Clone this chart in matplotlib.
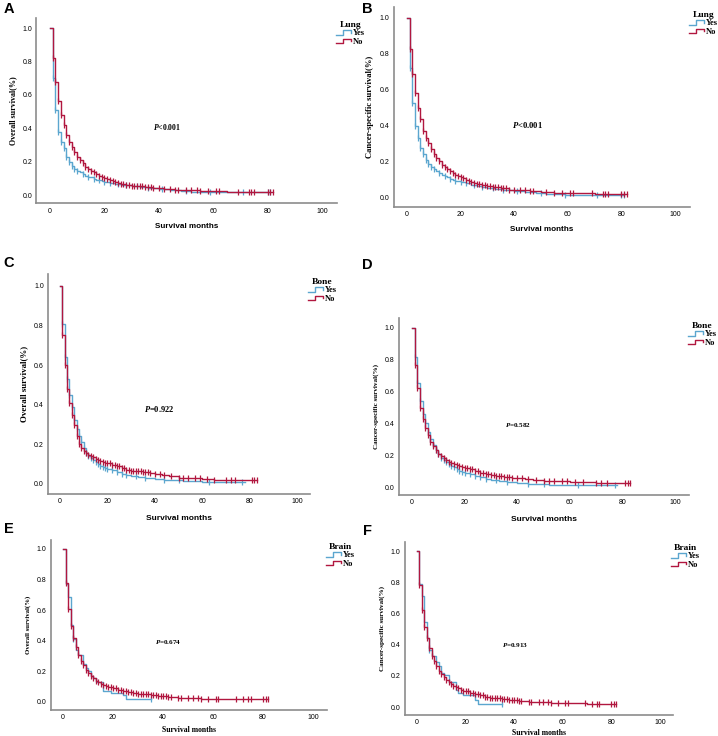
import numpy as np
import matplotlib
matplotlib.use('Agg')
import matplotlib.pyplot as plt
from matplotlib.legend_handler import HandlerBase
from matplotlib.lines import Line2D

plt.rcParams['mathtext.fontset'] = 'custom'
plt.rcParams['mathtext.it'] = 'Liberation Serif:bold:italic'
plt.rcParams['mathtext.rm'] = 'Liberation Serif:bold'

BLUE = '#5ba6cf'
RED = '#b1173f'

month_ticks = [0, 20, 40, 60, 80, 100]
surv_ticks = [0.0, 0.2, 0.4, 0.6, 0.8, 1.0]
group_labels = ['Yes', 'No']
panel_letters = ['A', 'B', 'C', 'D', 'E', 'F']
site_names = ['Lung', 'Lung', 'Bone', 'Bone', 'Brain', 'Brain']
y_titles = ['Overall survival(%)', 'Cancer-specific survival(%)',
            'Overall survival(%)', 'Cancer-specific survival(%)',
            'Overall survival(%)', 'Cancer-specific survival(%)']
p_texts = ['$P$<0.001', '$P$<0.001', '$P$=0.922', '$P$=0.582', '$P$=0.674', '$P$=0.913']

# ---------------- Panel A (OS, Lung) ----------------
a_yes_t = [0, 1, 2, 3, 4, 5, 6, 7, 8, 9, 10, 11, 12, 13, 14, 15, 16, 17, 18, 19, 20, 22, 24, 26, 28, 30, 33, 36, 40, 44, 48, 52, 58, 81]
a_yes_s = [1.0, 0.70, 0.51, 0.38, 0.32, 0.28, 0.23, 0.20, 0.175, 0.155, 0.145, 0.135, 0.125, 0.115, 0.11, 0.105, 0.098, 0.092, 0.087, 0.082, 0.078, 0.072, 0.066, 0.060, 0.057, 0.053, 0.047, 0.040, 0.035, 0.030, 0.025, 0.020, 0.015, 0.015]
a_yes_c = [1, 2, 3, 4, 5, 6, 7, 8, 9, 10, 12, 14, 16, 18, 20, 22, 25, 28, 32, 36, 41, 50, 59, 71, 80, 81]
a_no_t = [0, 1, 2, 3, 4, 5, 6, 7, 8, 9, 10, 11, 12, 13, 14, 15, 16, 17, 18, 19, 20, 21, 22, 23, 24, 25, 26, 28, 30, 32, 35, 38, 42, 46, 50, 55, 60, 65, 82]
a_no_s = [1.0, 0.82, 0.675, 0.56, 0.48, 0.42, 0.36, 0.32, 0.29, 0.26, 0.23, 0.21, 0.19, 0.17, 0.155, 0.145, 0.135, 0.125, 0.115, 0.108, 0.10, 0.095, 0.09, 0.083, 0.077, 0.072, 0.067, 0.061, 0.056, 0.051, 0.046, 0.040, 0.035, 0.030, 0.028, 0.025, 0.023, 0.020, 0.020]
a_no_c = [1, 2, 3, 4, 5, 6, 7, 8, 9, 10, 11, 12, 13, 14, 15, 16, 17, 18, 19, 20, 21, 22, 23, 24, 25, 26, 27, 28, 29, 30, 31, 32, 33, 34, 35, 36, 37, 38, 40, 42, 44, 46, 47, 50, 52, 54, 55, 58, 61, 62, 69, 73, 74, 75, 80, 81, 82]

# ---------------- Panel B (CSS, Lung) ----------------
b_yes_t = [0, 1, 2, 3, 4, 5, 6, 7, 8, 9, 10, 11, 12, 13, 14, 15, 16, 17, 18, 19, 20, 22, 24, 26, 28, 30, 33, 36, 40, 44, 48, 52, 56, 59, 81]
b_yes_s = [1.0, 0.72, 0.53, 0.40, 0.335, 0.28, 0.245, 0.21, 0.19, 0.17, 0.16, 0.15, 0.14, 0.13, 0.125, 0.115, 0.108, 0.10, 0.096, 0.092, 0.088, 0.082, 0.075, 0.068, 0.063, 0.058, 0.052, 0.045, 0.040, 0.035, 0.028, 0.024, 0.020, 0.016, 0.016]
b_yes_c = [1, 2, 3, 4, 5, 6, 7, 8, 9, 10, 12, 14, 16, 18, 20, 22, 25, 28, 32, 36, 41, 50, 59, 71, 80, 81]
b_no_t = [0, 1, 2, 3, 4, 5, 6, 7, 8, 9, 10, 11, 12, 13, 14, 15, 16, 17, 18, 19, 20, 21, 22, 23, 24, 25, 26, 28, 30, 32, 35, 38, 42, 46, 50, 55, 60, 65, 70, 82]
b_no_s = [1.0, 0.83, 0.69, 0.585, 0.50, 0.44, 0.375, 0.335, 0.305, 0.275, 0.245, 0.225, 0.205, 0.185, 0.17, 0.16, 0.15, 0.14, 0.128, 0.12, 0.115, 0.11, 0.10, 0.095, 0.09, 0.085, 0.08, 0.072, 0.066, 0.06, 0.053, 0.047, 0.042, 0.037, 0.033, 0.030, 0.028, 0.026, 0.022, 0.022]
b_no_c = [1, 2, 3, 4, 5, 6, 7, 8, 9, 10, 11, 12, 13, 14, 15, 16, 17, 18, 19, 20, 21, 22, 23, 24, 25, 26, 27, 28, 29, 30, 31, 32, 33, 34, 35, 36, 37, 38, 40, 42, 44, 46, 47, 52, 55, 58, 61, 62, 69, 73, 74, 75, 80, 81, 82]

# ---------------- Panel C (OS, Bone) ----------------
c_yes_t = [0, 1, 2, 3, 4, 5, 6, 7, 8, 9, 10, 11, 12, 13, 14, 15, 16, 17, 18, 19, 20, 22, 24, 26, 28, 30, 33, 36, 40, 44, 48, 52, 60, 78]
c_yes_s = [1.0, 0.81, 0.64, 0.53, 0.45, 0.39, 0.325, 0.28, 0.24, 0.21, 0.18, 0.155, 0.14, 0.13, 0.12, 0.11, 0.10, 0.09, 0.085, 0.08, 0.077, 0.07, 0.06, 0.05, 0.045, 0.04, 0.037, 0.030, 0.027, 0.022, 0.018, 0.013, 0.010, 0.010]
c_yes_c = [1, 2, 3, 4, 5, 6, 7, 8, 9, 10, 11, 12, 13, 14, 15, 16, 17, 18, 19, 20, 22, 24, 26, 28, 32, 36, 44, 50, 63, 77]
c_no_t = [0, 1, 2, 3, 4, 5, 6, 7, 8, 9, 10, 11, 12, 13, 14, 15, 16, 17, 18, 19, 20, 22, 24, 26, 28, 30, 32, 35, 38, 40, 43, 46, 50, 55, 60, 65, 83]
c_no_s = [1.0, 0.755, 0.60, 0.48, 0.41, 0.35, 0.30, 0.24, 0.20, 0.18, 0.165, 0.155, 0.145, 0.14, 0.135, 0.128, 0.122, 0.117, 0.112, 0.108, 0.104, 0.097, 0.09, 0.08, 0.072, 0.068, 0.064, 0.06, 0.054, 0.05, 0.045, 0.038, 0.032, 0.030, 0.025, 0.022, 0.020]
c_no_c = [1, 2, 3, 4, 5, 6, 7, 8, 9, 10, 11, 12, 13, 14, 15, 16, 17, 18, 19, 20, 21, 22, 23, 24, 25, 26, 27, 28, 29, 30, 31, 32, 33, 34, 35, 36, 37, 38, 40, 42, 44, 47, 50, 52, 54, 57, 59, 62, 65, 70, 72, 74, 81, 82, 83]

# ---------------- Panel D (CSS, Bone) ----------------
d_yes_t = [0, 1, 2, 3, 4, 5, 6, 7, 8, 9, 10, 11, 12, 13, 14, 15, 16, 17, 18, 19, 20, 22, 24, 26, 28, 30, 33, 36, 40, 44, 48, 52, 60, 78]
d_yes_s = [1.0, 0.82, 0.655, 0.54, 0.46, 0.40, 0.345, 0.30, 0.265, 0.235, 0.205, 0.185, 0.17, 0.155, 0.145, 0.135, 0.125, 0.113, 0.10, 0.093, 0.088, 0.08, 0.07, 0.06, 0.05, 0.045, 0.04, 0.032, 0.028, 0.022, 0.018, 0.014, 0.011, 0.010]
d_yes_c = [1, 2, 3, 4, 5, 6, 7, 8, 9, 10, 11, 12, 13, 14, 15, 16, 17, 18, 19, 20, 22, 24, 26, 28, 32, 36, 44, 50, 63, 77]
d_no_t = [0, 1, 2, 3, 4, 5, 6, 7, 8, 9, 10, 11, 12, 13, 14, 15, 16, 17, 18, 19, 20, 22, 24, 26, 28, 30, 32, 35, 38, 40, 43, 46, 50, 55, 60, 65, 70, 83]
d_no_s = [1.0, 0.77, 0.62, 0.50, 0.43, 0.37, 0.33, 0.285, 0.255, 0.23, 0.21, 0.195, 0.18, 0.17, 0.16, 0.153, 0.145, 0.14, 0.133, 0.127, 0.12, 0.112, 0.10, 0.09, 0.082, 0.077, 0.072, 0.066, 0.058, 0.054, 0.05, 0.045, 0.040, 0.037, 0.033, 0.030, 0.028, 0.027]
d_no_c = [1, 2, 3, 4, 5, 6, 7, 8, 9, 10, 11, 12, 13, 14, 15, 16, 17, 18, 19, 20, 21, 22, 23, 24, 25, 26, 27, 28, 29, 30, 31, 32, 33, 34, 35, 36, 37, 38, 40, 42, 44, 47, 50, 52, 54, 57, 59, 62, 65, 70, 72, 74, 81, 82, 83]

# ---------------- Panel E (OS, Brain) ----------------
e_yes_t = [0, 1, 2, 3, 4, 5, 6, 8, 9, 10, 11, 12, 13, 16, 19, 24, 25, 35]
e_yes_s = [1.0, 0.77, 0.685, 0.505, 0.41, 0.34, 0.31, 0.25, 0.225, 0.20, 0.17, 0.16, 0.13, 0.075, 0.058, 0.045, 0.022, 0.022]
e_yes_c = [4, 35]
e_no_t = [0, 1, 2, 3, 4, 5, 6, 7, 8, 9, 10, 11, 12, 13, 14, 15, 16, 17, 18, 19, 20, 22, 24, 26, 28, 30, 32, 35, 38, 42, 46, 50, 55, 60, 82]
e_no_s = [1.0, 0.775, 0.61, 0.495, 0.42, 0.36, 0.31, 0.27, 0.24, 0.21, 0.19, 0.17, 0.155, 0.14, 0.13, 0.12, 0.11, 0.105, 0.10, 0.095, 0.09, 0.08, 0.072, 0.065, 0.058, 0.054, 0.05, 0.045, 0.04, 0.033, 0.028, 0.025, 0.022, 0.020, 0.018]
e_no_c = [1, 2, 3, 4, 5, 6, 7, 8, 9, 10, 11, 12, 13, 14, 15, 16, 17, 18, 19, 20, 21, 22, 23, 24, 25, 26, 27, 28, 29, 30, 31, 32, 33, 34, 35, 36, 37, 38, 39, 40, 41, 42, 43, 46, 47, 50, 52, 54, 55, 58, 61, 62, 69, 72, 74, 75, 80, 81, 82]

# ---------------- Panel F (CSS, Brain) ----------------
f_yes_t = [0, 1, 2, 3, 4, 5, 6, 8, 9, 10, 11, 13, 16, 17, 19, 24, 25, 35]
f_yes_s = [1.0, 0.79, 0.71, 0.545, 0.44, 0.365, 0.33, 0.29, 0.265, 0.22, 0.205, 0.16, 0.11, 0.09, 0.075, 0.045, 0.02, 0.02]
f_yes_c = [5, 35]
f_no_t = [0, 1, 2, 3, 4, 5, 6, 7, 8, 9, 10, 11, 12, 13, 14, 15, 16, 17, 18, 19, 20, 22, 24, 26, 28, 30, 32, 35, 38, 42, 46, 50, 55, 60, 70, 82]
f_no_s = [1.0, 0.785, 0.625, 0.51, 0.44, 0.38, 0.33, 0.295, 0.26, 0.23, 0.21, 0.19, 0.175, 0.16, 0.148, 0.137, 0.127, 0.12, 0.11, 0.105, 0.10, 0.09, 0.082, 0.074, 0.066, 0.06, 0.056, 0.05, 0.045, 0.04, 0.033, 0.03, 0.027, 0.025, 0.02, 0.02]
f_no_c = [1, 2, 3, 4, 5, 6, 7, 8, 9, 10, 11, 12, 13, 14, 15, 16, 17, 18, 19, 20, 21, 22, 23, 24, 25, 26, 27, 28, 29, 30, 31, 32, 33, 34, 35, 36, 37, 38, 39, 40, 41, 42, 43, 46, 47, 50, 52, 54, 55, 58, 61, 62, 69, 72, 74, 75, 80, 81, 82]

panels_data = [
    ((a_yes_t, a_yes_s, a_yes_c), (a_no_t, a_no_s, a_no_c)),
    ((b_yes_t, b_yes_s, b_yes_c), (b_no_t, b_no_s, b_no_c)),
    ((c_yes_t, c_yes_s, c_yes_c), (c_no_t, c_no_s, c_no_c)),
    ((d_yes_t, d_yes_s, d_yes_c), (d_no_t, d_no_s, d_no_c)),
    ((e_yes_t, e_yes_s, e_yes_c), (e_no_t, e_no_s, e_no_c)),
    ((f_yes_t, f_yes_s, f_yes_c), (f_no_t, f_no_s, f_no_c)),
]

# ---------------- layout (pixel anchors: x of tick 0, x of tick 100, y of 0.0, y of 1.0) ----------------
W, H = 718, 736
anchors = [(50, 322, 195, 28), (407, 675, 198, 18), (60, 297, 484, 286),
           (412, 675, 487, 328), (63, 313, 702, 549), (417, 660, 707, 551)]
XMIN, XMAX, YMIN, YMAX = -5, 105.5, -0.05, 1.06
letter_pos = [(9, 9), (367, 9), (9, 263), (367, 265), (9, 529), (367, 531)]
legend_pos = [(336, 21), (689, 11), (308, 278), (688, 322), (326, 543), (671, 544)]
ylab_size = [5.8, 6.2, 6.4, 5.1, 4.9, 5.1]
xlab_style = [('Liberation Sans', 5.9), ('Liberation Sans', 5.9), ('Liberation Sans', 6.0),
              ('Liberation Sans', 6.0), ('Liberation Serif', 5.6), ('Liberation Serif', 5.6)]
xlab_pad = [6, 6, 7, 7, 4, 2.5]
p_pos = [(43, 0.41), (44.8, 0.405), (41.8, 0.38), (40.3, 0.39), (42, 0.39), (40.3, 0.40)]
p_size = [5.6, 6.2, 6.0, 5.1, 5.1, 5.1]


class StepHandler(HandlerBase):
    def create_artists(self, legend, orig_handle, xdescent, ydescent, width, height, fontsize, trans):
        x0, y0 = -xdescent, -ydescent
        xs = [x0, x0 + 0.45 * width, x0 + 0.45 * width, x0 + width, x0 + width]
        ys = [y0 + 0.1 * height, y0 + 0.1 * height, y0 + 0.85 * height, y0 + 0.85 * height, y0 + 0.45 * height]
        ln = Line2D(xs, ys, color=orig_handle.get_color(), lw=1.0, transform=trans)
        return [ln]


fig = plt.figure(figsize=(W / 100, H / 100), dpi=100)

for i in range(6):
    x0, x100, y0, y1 = anchors[i]
    sx = (x100 - x0) / 100.0
    sy = (y0 - y1)
    left = x0 + XMIN * sx
    right = x0 + XMAX * sx
    bottom = y0 - YMIN * sy
    top = y0 - YMAX * sy
    ax = fig.add_axes([left / W, 1 - bottom / H, (right - left) / W, (bottom - top) / H])
    handles = []
    for (t, s, c), color, lab in zip(panels_data[i], [BLUE, RED], group_labels):
        t = np.asarray(t, float)
        s = np.asarray(s, float)
        ax.step(t, s, where='post', color=color, lw=1.0)
        c = np.asarray(c, float)
        idx = np.searchsorted(t, c, side='right') - 1
        ax.plot(c, s[idx], linestyle='none', marker='|', color=color, ms=4, mew=0.9)
        handles.append(Line2D([], [], color=color, label=lab))
    ax.set_xlim(XMIN, XMAX)
    ax.set_ylim(YMIN, YMAX)
    ax.set_xticks(month_ticks)
    ax.set_yticks(surv_ticks)
    ax.set_yticklabels([f'{v:.1f}' for v in surv_ticks])
    ax.tick_params(length=0, labelsize=5.0, pad=3)
    for lbl in ax.get_xticklabels() + ax.get_yticklabels():
        lbl.set_fontfamily('Liberation Sans')
    for sp in ['top', 'right']:
        ax.spines[sp].set_visible(False)
    for sp in ['left', 'bottom']:
        ax.spines[sp].set_color('#8c8c8c')
        ax.spines[sp].set_linewidth(1.2)
    ax.set_ylabel(y_titles[i], fontfamily='Liberation Serif', fontweight='bold',
                  fontsize=ylab_size[i], labelpad=4)
    fam, fs = xlab_style[i]
    ax.set_xlabel('Survival months', fontfamily=fam, fontweight='bold', fontsize=fs,
                  labelpad=xlab_pad[i])
    ax.text(p_pos[i][0], p_pos[i][1], p_texts[i], ha='center', va='center',
            fontsize=p_size[i], fontfamily='Liberation Serif', fontweight='bold')
    lx, ly = legend_pos[i]
    leg = ax.legend(handles=handles, title=site_names[i], loc='upper left',
                    bbox_to_anchor=(lx / W, 1 - ly / H), bbox_transform=fig.transFigure,
                    frameon=False, handler_map={Line2D: StepHandler()},
                    prop={'family': 'Liberation Serif', 'weight': 'bold', 'size': 6.0},
                    handlelength=1.8, handletextpad=0.2, labelspacing=0.05,
                    borderpad=0, borderaxespad=0)
    leg.get_title().set_fontfamily('Liberation Serif')
    leg.get_title().set_fontweight('bold')
    leg.get_title().set_fontsize(6.8)
    fig.text(letter_pos[i][0] / W, 1 - letter_pos[i][1] / H, panel_letters[i],
             fontfamily='Liberation Sans', fontweight='bold', fontsize=10.5,
             ha='center', va='center')

fig.savefig('out.png', dpi=100)
